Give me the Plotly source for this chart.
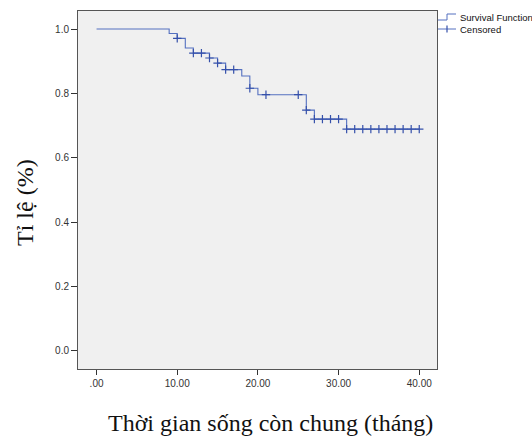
import numpy as np
import plotly.graph_objects as go

# Kaplan-Meier step function (time in months, survival proportion)
step_times = [0, 9, 10, 11, 12, 14, 15, 16, 18, 19, 20, 26, 27, 31]
step_surv = [1.0, 0.986, 0.971, 0.941, 0.925, 0.910, 0.894, 0.874, 0.854, 0.816, 0.796, 0.748, 0.720, 0.689]
last_time = 40

# censored observation times
censor_times = [10, 12, 13, 14, 15, 16, 17, 19, 21, 25, 26, 27, 28, 29, 30,
                31, 32, 33, 34, 35, 36, 37, 38, 39, 40]

x_tickvals = [0, 10, 20, 30, 40]
x_ticktext = [".00", "10.00", "20.00", "30.00", "40.00"]
y_tickvals = [0.0, 0.2, 0.4, 0.6, 0.8, 1.0]
y_ticktext = ["0.0", "0.2", "0.4", "0.6", "0.8", "1.0"]

legend_names = ["Survival Function", "Censored"]

line_x = step_times + [last_time]
line_y = step_surv + [step_surv[-1]]

idx = np.searchsorted(step_times, censor_times, side="right") - 1
censor_y = [step_surv[i] for i in idx]

LINE_COL = "#5470c0"
CENS_COL = "#3550aa"

W, H = 532, 448
ML, MR, MT, MB = 78, 95, 11, 79
PW, PH = W - ML - MR, H - MT - MB


def px(x):
    return (x - ML) / PW


def py(y):
    return 1 - (y - MT) / PH


fig = go.Figure()
fig.add_trace(go.Scatter(
    x=line_x, y=line_y, mode="lines", line=dict(shape="hv", color=LINE_COL, width=1.1),
    name=legend_names[0], hoverinfo="skip", showlegend=False))
fig.add_trace(go.Scatter(
    x=censor_times, y=censor_y, mode="markers",
    marker=dict(symbol="cross-thin", size=6, line=dict(color=CENS_COL, width=1.2), color=CENS_COL),
    name=legend_names[1], showlegend=False))

# manual legend glyphs (SPSS style)
shapes = [
    dict(type="path", xref="paper", yref="paper",
         path=f"M {px(438)} {py(20)} L {px(447)} {py(20)} L {px(447)} {py(14)} L {px(456)} {py(14)}",
         line=dict(color=LINE_COL, width=1)),
    dict(type="line", xref="paper", yref="paper", x0=px(438), x1=px(456), y0=py(29), y1=py(29),
         line=dict(color=LINE_COL, width=1)),
    dict(type="line", xref="paper", yref="paper", x0=px(447), x1=px(447), y0=py(25.5), y1=py(32.5),
         line=dict(color=CENS_COL, width=1.2)),
]

annotations = [
    dict(text=legend_names[0], xref="paper", yref="paper", x=px(458), y=py(17.5),
         xanchor="left", yanchor="middle", showarrow=False,
         font=dict(family="Arial, Liberation Sans, sans-serif", size=9.5, color="#111111")),
    dict(text=legend_names[1], xref="paper", yref="paper", x=px(458), y=py(29),
         xanchor="left", yanchor="middle", showarrow=False,
         font=dict(family="Arial, Liberation Sans, sans-serif", size=9.5, color="#111111")),
    dict(text="Tỉ lệ (%)", xref="paper", yref="paper", x=px(25), y=py(203),
         xanchor="center", yanchor="middle", textangle=-90, showarrow=False,
         font=dict(family="Liberation Serif, Times New Roman, serif", size=24, color="#111111")),
    dict(text="Thời gian sống còn chung (tháng)", xref="paper", yref="paper", x=px(270), y=py(423),
         xanchor="center", yanchor="middle", showarrow=False,
         font=dict(family="Liberation Serif, Times New Roman, serif", size=24, color="#111111")),
]

fig.update_layout(
    width=W, height=H,
    margin=dict(l=ML, r=MR, t=MT, b=MB, autoexpand=False),
    paper_bgcolor="white", plot_bgcolor="#f0f0f0",
    font=dict(family="Arial, Liberation Sans, sans-serif", size=10, color="#333333"),
    showlegend=False,
    xaxis=dict(range=[-2.3, 42.2], tickvals=x_tickvals, ticktext=x_ticktext,
               ticks="outside", ticklen=5, tickcolor="#333333", showgrid=False, zeroline=False,
               showline=True, mirror=True, linecolor="#555555", linewidth=1),
    yaxis=dict(range=[-0.056, 1.056], tickvals=y_tickvals, ticktext=y_ticktext,
               ticks="outside", ticklen=6, tickcolor="#333333", showgrid=False, zeroline=False,
               showline=True, mirror=True, linecolor="#555555", linewidth=1),
    shapes=shapes,
    annotations=annotations,
)

fig.write_html("out.html")
